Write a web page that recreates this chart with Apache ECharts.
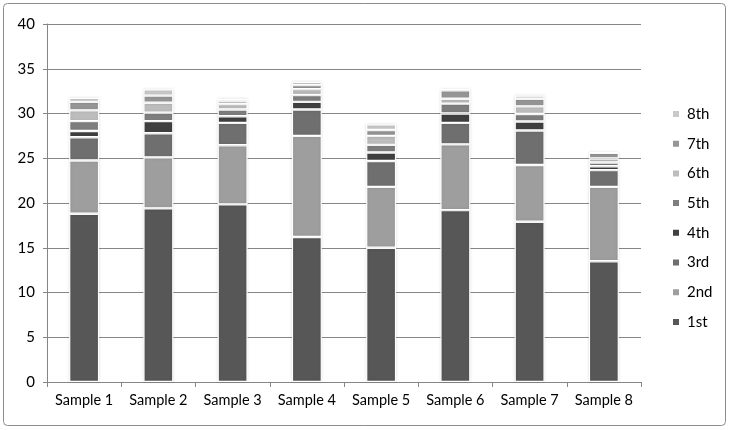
<!DOCTYPE html>
<html>
<head>
<meta charset="utf-8">
<script src="https://cdn.jsdelivr.net/npm/echarts@6/dist/echarts.min.js"></script>
<style>
html,body{margin:0;padding:0;background:#fff;}
#c{width:729px;height:430px;}
</style>
</head>
<body>
<div id="c"></div>
<script>
var categories = ['Sample 1','Sample 2','Sample 3','Sample 4','Sample 5','Sample 6','Sample 7','Sample 8'];
var seriesNames = ['1st','2nd','3rd','4th','5th','6th','7th','8th'];
var s1st = [18.8, 19.4, 19.85, 16.2, 15.0, 19.2, 17.9, 13.5];
var s2nd = [5.95, 5.7, 6.6, 11.3, 6.8, 7.35, 6.35, 8.3];
var s3rd = [2.6, 2.7, 2.5, 2.95, 2.9, 2.4, 3.85, 1.87];
var s4th = [0.7, 1.35, 0.75, 0.85, 0.95, 1.05, 1.0, 0.44];
var s5th = [1.1, 0.95, 0.75, 0.75, 0.85, 1.1, 0.85, 0.42];
var s6th = [1.2, 1.1, 0.6, 0.67, 1.0, 0.55, 0.85, 0.45];
var s7th = [0.95, 0.8, 0.3, 0.45, 0.65, 0.95, 0.85, 0.62];
var s8th = [0.45, 0.7, 0.3, 0.37, 0.65, 0.15, 0.35, 0.1];
var yTicks = [0, 5, 10, 15, 20, 25, 30, 35, 40];

var allData = [s1st, s2nd, s3rd, s4th, s5th, s6th, s7th, s8th];
var colors = ['#575757', '#9e9e9e', '#6f6f6f', '#404040', '#7e7e7e', '#bdbdbd', '#969696', '#c9c9c9'];
var font = 'Lato, "Open Sans", sans-serif';

var chart = echarts.init(document.getElementById('c'));
chart.setOption({
  animation: false,
  backgroundColor: '#fff',
  graphic: [{
    type: 'rect',
    shape: {x: 3.5, y: 3.5, width: 722, height: 422, r: 4},
    style: {fill: 'none', stroke: '#8c8c8c', lineWidth: 1},
    silent: true, z: -1
  }],
  grid: {left: 47, right: 88, top: 24, bottom: 48},
  legend: {
    orient: 'vertical',
    left: 666,
    top: 101,
    data: seriesNames.slice().reverse(),
    itemWidth: 8,
    itemHeight: 8,
    itemGap: 13.7,
    icon: 'rect',
    textStyle: {fontFamily: font, fontSize: 15, color: '#000', lineHeight: 16, padding: [0,0,0,2]}
  },
  xAxis: {
    type: 'category',
    data: categories,
    axisLine: {lineStyle: {color: '#868686'}},
    axisTick: {show: true, length: 5, lineStyle: {color: '#868686'}},
    axisLabel: {fontFamily: font, fontSize: 14.5, color: '#000', margin: 11, interval: 0}
  },
  yAxis: {
    type: 'value',
    min: yTicks[0],
    max: yTicks[yTicks.length - 1],
    interval: yTicks[1] - yTicks[0],
    axisLine: {show: true, lineStyle: {color: '#868686'}},
    axisTick: {show: true, length: 4, lineStyle: {color: '#868686'}},
    splitLine: {lineStyle: {color: '#868686', width: 1}},
    axisLabel: {fontFamily: font, fontSize: 15, color: '#000', margin: 12}
  },
  series: seriesNames.map(function(n, i){
    return {
      name: n,
      type: 'bar',
      stack: 'total',
      barWidth: 30,
      data: allData[i],
      itemStyle: {color: colors[i], borderColor: '#ffffff', borderWidth: 1.2,
                  shadowColor: 'rgba(0,0,0,0.12)', shadowBlur: 3}
    };
  })
});
</script>
</body>
</html>
